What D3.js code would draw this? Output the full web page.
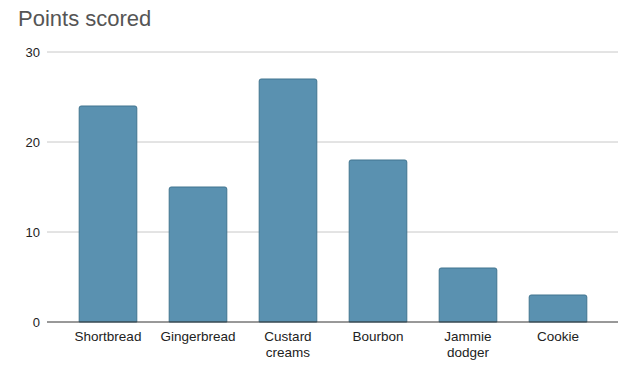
<!DOCTYPE html>
<html>
<head>
<meta charset="utf-8">
<script src="https://cdn.jsdelivr.net/npm/d3@7"></script>
<style>
  body { margin: 0; background: #fff; }
  text { font-family: "Liberation Sans", Arial, sans-serif; }
</style>
</head>
<body>
<div id="chart"></div>
<script>
var categories = ["Shortbread", "Gingerbread", "Custard creams", "Bourbon", "Jammie dodger", "Cookie"];
var points = [24, 15, 27, 18, 6, 3];
var yTicks = [0, 10, 20, 30];

var width = 630, height = 366;

var svg = d3.select("#chart").append("svg")
  .attr("width", width)
  .attr("height", height);

svg.append("text")
  .attr("x", 18)
  .attr("y", 26)
  .attr("font-size", 22)
  .attr("fill", "#555")
  .text("Points scored");

var x = d3.scaleBand()
  .domain(categories)
  .range([63, 603])
  .paddingInner(0.36)
  .paddingOuter(0.18);

var y = d3.scaleLinear()
  .domain([0, 30])
  .range([322, 52]);

// gridlines
svg.selectAll(".grid")
  .data(yTicks.filter(function(d) { return d > 0; }))
  .enter().append("line")
    .attr("x1", 47)
    .attr("x2", 618)
    .attr("y1", function(d) { return y(d); })
    .attr("y2", function(d) { return y(d); })
    .attr("stroke", "#c8c8c8")
    .attr("stroke-width", 1);

var yAxis = svg.append("g")
  .attr("transform", "translate(40,0)")
  .call(d3.axisLeft(y).tickValues(yTicks).tickSize(0).tickPadding(0));
yAxis.select(".domain").remove();
yAxis.selectAll("text")
  .attr("font-size", 13)
  .attr("fill", "#222")
  .attr("font-family", "Liberation Sans, Arial, sans-serif");

// bars with slightly rounded tops
svg.selectAll(".bar")
  .data(points)
  .enter().append("path")
    .attr("class", "bar")
    .attr("d", function(d, i) {
      var x0 = x(categories[i]), w = x.bandwidth();
      var y0 = y(d), y1 = y(0), r = 2;
      return "M" + x0 + "," + y1 +
        "V" + (y0 + r) +
        "Q" + x0 + "," + y0 + " " + (x0 + r) + "," + y0 +
        "H" + (x0 + w - r) +
        "Q" + (x0 + w) + "," + y0 + " " + (x0 + w) + "," + (y0 + r) +
        "V" + y1 + "Z";
    })
    .attr("fill", "#5a91b0")
    .attr("stroke", "#41748f")
    .attr("stroke-width", 1);

// baseline
svg.append("line")
  .attr("x1", 47)
  .attr("x2", 618)
  .attr("y1", y(0))
  .attr("y2", y(0))
  .attr("stroke", "#333")
  .attr("stroke-width", 1);

// category labels (wrapped)
var labels = svg.selectAll(".xlabel")
  .data(categories)
  .enter().append("text")
    .attr("class", "xlabel")
    .attr("text-anchor", "middle")
    .attr("font-size", 13.5)
    .attr("fill", "#222")
    .attr("y", 341);

labels.each(function(d) {
  var words = d.split(" ");
  var t = d3.select(this);
  var cx = x(d) + x.bandwidth() / 2;
  words.forEach(function(w, k) {
    t.append("tspan")
      .attr("x", cx)
      .attr("dy", k === 0 ? 0 : 16)
      .text(w);
  });
});
</script>
</body>
</html>
